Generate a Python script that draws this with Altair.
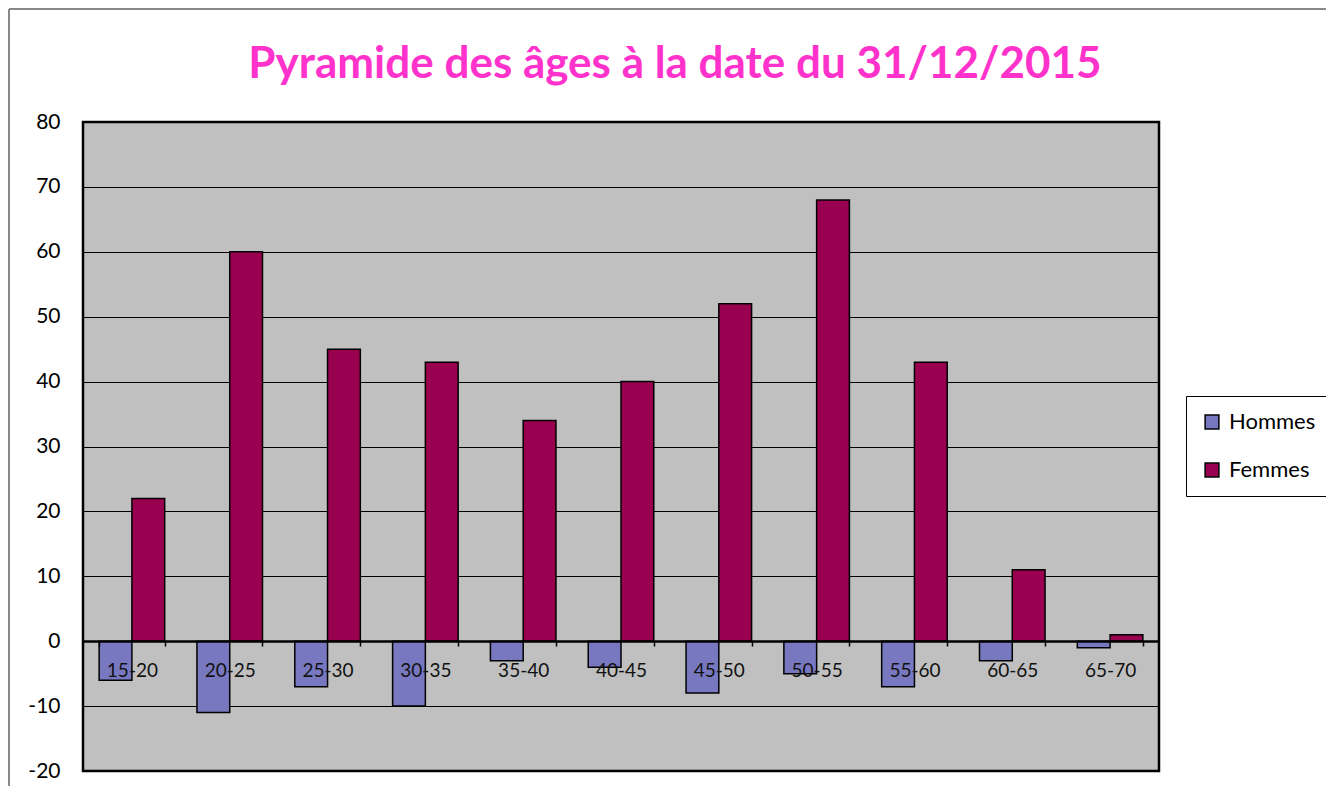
import altair as alt
import pandas as pd

categories = ["15-20", "20-25", "25-30", "30-35", "35-40", "40-45",
              "45-50", "50-55", "55-60", "60-65", "65-70"]
hommes = [-6, -11, -7, -10, -3, -4, -8, -5, -7, -3, -1]
femmes = [22, 60, 45, 43, 34, 40, 52, 68, 43, 11, 1]
series = ["Hommes", "Femmes"]
colors = ["#7878C0", "#990050"]
y_ticks = [-20, -10, 0, 10, 20, 30, 40, 50, 60, 70, 80]

rows = []
for c, h, f in zip(categories, hommes, femmes):
    rows.append({"age": c, "sexe": "Hommes", "valeur": h})
    rows.append({"age": c, "sexe": "Femmes", "valeur": f})
df = pd.DataFrame(rows)

FONT = "Lato"

bars = alt.Chart(df).mark_bar(stroke="black", strokeWidth=1.5).encode(
    x=alt.X("age:N", sort=categories,
            scale=alt.Scale(paddingInner=0.33, paddingOuter=0.165),
            axis=alt.Axis(title=None, labelAngle=0, offset=-130, tickBand="extent",
                          domainColor="black", domainWidth=2.5, tickColor="black",
                          tickSize=5, tickWidth=1.5, labelFontSize=19, labelColor="#111",
                          labelFont=FONT, labelPadding=15, zindex=2, grid=False)),
    xOffset=alt.XOffset("sexe:N", sort=series),
    y=alt.Y("valeur:Q", scale=alt.Scale(domain=[-20, 80], nice=False),
            axis=alt.Axis(title=None, values=y_ticks, grid=True, gridColor="#000",
                          gridWidth=1.2, domain=False, ticks=False, labelFontSize=21,
                          labelColor="black", labelFont=FONT, labelPadding=23,
                          labelExpr="'' + datum.value")),
    color=alt.Color("sexe:N", sort=series,
                    scale=alt.Scale(domain=series, range=colors),
                    legend=alt.Legend(title=None, orient="none", legendX=1103, legendY=274,
                                      strokeColor="black", padding=15, symbolType="square",
                                      symbolSize=190, symbolStrokeColor="black",
                                      symbolStrokeWidth=1.5, labelFontSize=22,
                                      labelFont=FONT, rowPadding=26, labelOffset=6,
                                      fillColor="white", symbolOpacity=1)),
)

one = pd.DataFrame({"k": [0]})
frame_top = alt.Chart(one).mark_rule(color="#888888", strokeWidth=2).encode(
    x=alt.value(-74), x2=alt.value(1243), y=alt.value(-113)
)
frame_left = alt.Chart(one).mark_rule(color="#888888", strokeWidth=2).encode(
    x=alt.value(-74), y=alt.value(-113), y2=alt.value(664)
)

chart = alt.layer(frame_top, frame_left, bars).properties(
    width=1076, height=649,
    title=alt.Title("Pyramide des âges à la date du 31/12/2015", fontSize=44,
                    font=FONT, fontWeight="bold", color="#FF33CC", anchor="middle",
                    frame="group", dx=54, offset=-79),
    autosize=alt.AutoSizeParams(type="none"),
    padding={"left": 75, "top": 114, "right": 167, "bottom": 15},
).configure_view(fill="#C0C0C0", stroke="black", strokeWidth=2.5)

chart.save("out.html", embed_options={"renderer": "svg", "actions": False})
